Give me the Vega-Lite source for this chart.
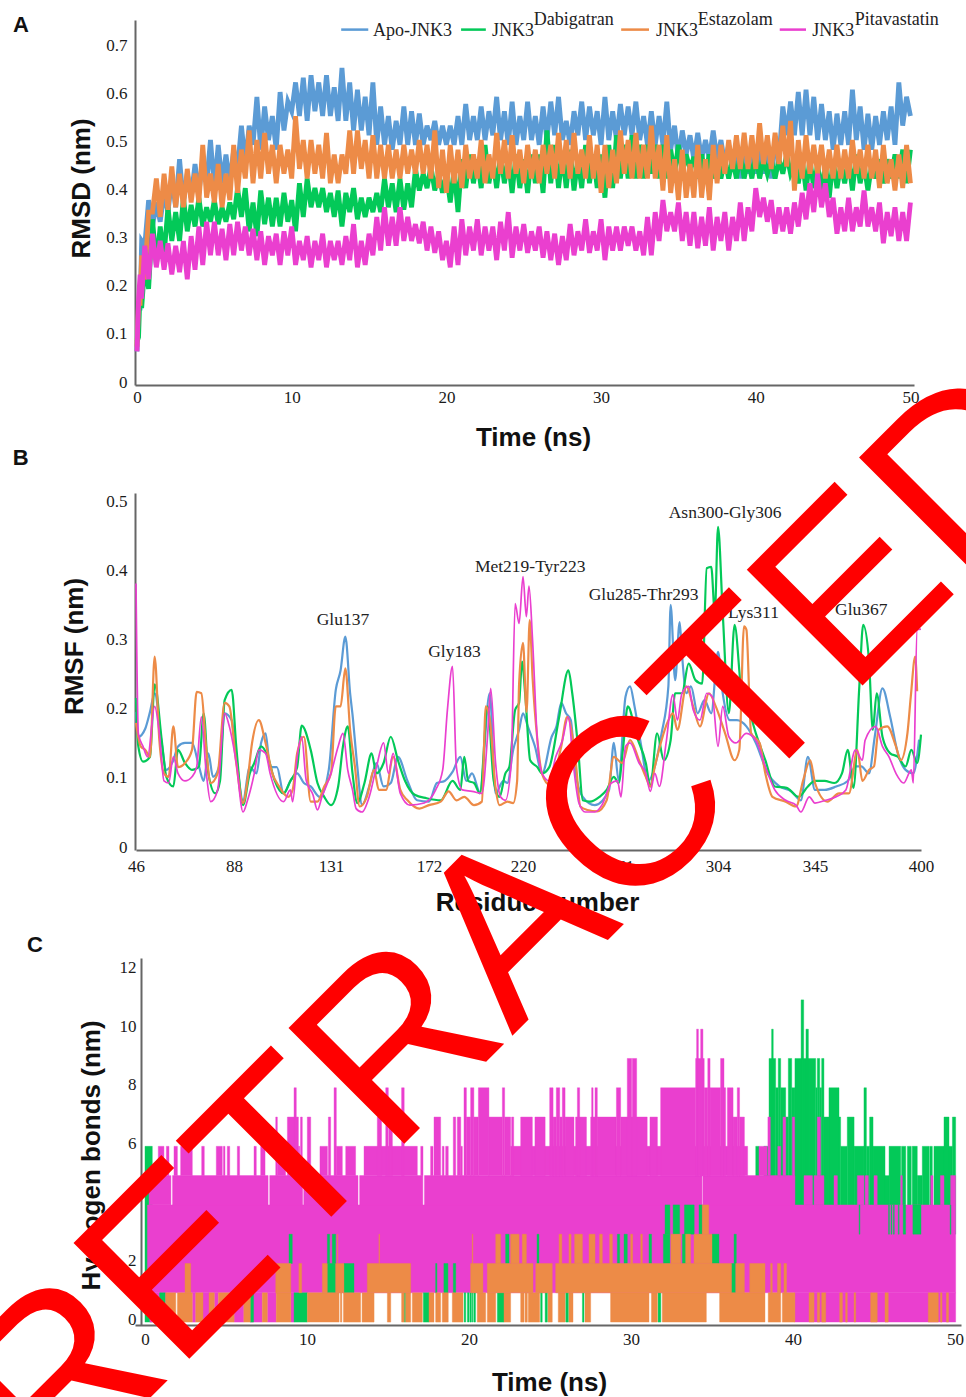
{"$schema":"https://vega.github.io/schema/vega-lite/v6.json","padding":{"left":-81,"top":11,"right":0,"bottom":0},"background":"white","bounds":"flush","spacing":108,"resolve":{"scale":{"color":"independent","stroke":"independent"}},
"config":{"view":{"stroke":null},"axis":{"grid":false,"ticks":false,"domainColor":"#666666","domainWidth":2,"labelFont":"Liberation Serif","labelFontSize":17,"labelColor":"#1a1a1a","titleFont":"Liberation Sans","titleFontSize":26,"titleFontWeight":"bold","titleColor":"#111111","titleBaseline":"middle","titleAlign":"center","labelFlush":false,"labelOverlap":false}},
"datasets":{
"rmsd":[
{"t":0,"a":0.07,"d":0.09,"e":0.08,"p":0.07},{"t":0.1,"a":0.16,"d":0.1,"e":0.17,"p":0.18},{"t":0.2,"a":0.16,"d":0.2,"e":0.17,"p":0.23},{"t":0.3,"a":0.3,"d":0.16,"e":0.27,"p":0.18},{"t":0.5,"a":0.29,"d":0.25,"e":0.22,"p":0.29},{"t":0.75,"a":0.385,"d":0.2,"e":0.36,"p":0.22},
{"t":1,"a":0.33,"d":0.345,"e":0.36,"p":0.315},{"t":1.25,"a":0.38,"d":0.25,"e":0.43,"p":0.245},{"t":1.5,"a":0.34,"d":0.33,"e":0.35,"p":0.3},{"t":1.75,"a":0.4,"d":0.27,"e":0.44,"p":0.24},{"t":2,"a":0.36,"d":0.37,"e":0.365,"p":0.295},{"t":2.25,"a":0.43,"d":0.3,"e":0.455,"p":0.23},{"t":2.5,"a":0.37,"d":0.36,"e":0.37,"p":0.29},{"t":2.75,"a":0.47,"d":0.3,"e":0.44,"p":0.235},{"t":3,"a":0.38,"d":0.39,"e":0.37,"p":0.3},{"t":3.25,"a":0.44,"d":0.32,"e":0.45,"p":0.22},{"t":3.5,"a":0.39,"d":0.375,"e":0.38,"p":0.31},{"t":3.75,"a":0.46,"d":0.33,"e":0.44,"p":0.24},
{"t":4,"a":0.4,"d":0.39,"e":0.38,"p":0.33},{"t":4.25,"a":0.47,"d":0.33,"e":0.5,"p":0.25},{"t":4.5,"a":0.42,"d":0.37,"e":0.39,"p":0.34},{"t":4.75,"a":0.51,"d":0.34,"e":0.44,"p":0.27},{"t":5,"a":0.41,"d":0.385,"e":0.38,"p":0.34},{"t":5.25,"a":0.5,"d":0.335,"e":0.46,"p":0.27},{"t":5.5,"a":0.42,"d":0.37,"e":0.37,"p":0.325},{"t":5.75,"a":0.48,"d":0.34,"e":0.44,"p":0.26},{"t":6,"a":0.42,"d":0.38,"e":0.385,"p":0.335},{"t":6.25,"a":0.49,"d":0.345,"e":0.5,"p":0.27},{"t":6.5,"a":0.45,"d":0.41,"e":0.4,"p":0.34},{"t":6.75,"a":0.54,"d":0.35,"e":0.49,"p":0.28},{"t":7,"a":0.46,"d":0.41,"e":0.43,"p":0.33},{"t":7.25,"a":0.54,"d":0.32,"e":0.53,"p":0.27},{"t":7.5,"a":0.5,"d":0.38,"e":0.42,"p":0.325},{"t":7.75,"a":0.6,"d":0.31,"e":0.51,"p":0.26},
{"t":8,"a":0.49,"d":0.405,"e":0.43,"p":0.32},{"t":8.25,"a":0.58,"d":0.335,"e":0.525,"p":0.25},{"t":8.5,"a":0.51,"d":0.39,"e":0.44,"p":0.31},{"t":8.75,"a":0.56,"d":0.33,"e":0.5,"p":0.27},{"t":9,"a":0.49,"d":0.39,"e":0.42,"p":0.315},{"t":9.25,"a":0.61,"d":0.33,"e":0.5,"p":0.25},{"t":9.5,"a":0.53,"d":0.4,"e":0.44,"p":0.32},{"t":9.75,"a":0.59,"d":0.34,"e":0.49,"p":0.27},{"t":10,"a":0.57,"d":0.385,"e":0.43,"p":0.33},{"t":10.25,"a":0.63,"d":0.32,"e":0.56,"p":0.25},{"t":10.5,"a":0.56,"d":0.42,"e":0.45,"p":0.3},{"t":10.75,"a":0.64,"d":0.35,"e":0.51,"p":0.26},{"t":11,"a":0.55,"d":0.43,"e":0.43,"p":0.31},{"t":11.25,"a":0.645,"d":0.37,"e":0.51,"p":0.245},{"t":11.5,"a":0.57,"d":0.41,"e":0.44,"p":0.3},{"t":11.75,"a":0.63,"d":0.37,"e":0.5,"p":0.26},
{"t":12,"a":0.56,"d":0.41,"e":0.43,"p":0.315},{"t":12.25,"a":0.645,"d":0.36,"e":0.525,"p":0.245},{"t":12.5,"a":0.56,"d":0.4,"e":0.42,"p":0.3},{"t":12.75,"a":0.62,"d":0.35,"e":0.48,"p":0.26},{"t":13,"a":0.55,"d":0.405,"e":0.42,"p":0.3},{"t":13.25,"a":0.66,"d":0.33,"e":0.48,"p":0.25},{"t":13.5,"a":0.55,"d":0.4,"e":0.44,"p":0.31},{"t":13.75,"a":0.63,"d":0.36,"e":0.53,"p":0.26},{"t":14,"a":0.53,"d":0.41,"e":0.44,"p":0.335},{"t":14.25,"a":0.615,"d":0.345,"e":0.53,"p":0.245},{"t":14.5,"a":0.53,"d":0.39,"e":0.45,"p":0.3},{"t":14.75,"a":0.6,"d":0.35,"e":0.51,"p":0.25},{"t":15,"a":0.52,"d":0.39,"e":0.43,"p":0.315},{"t":15.25,"a":0.63,"d":0.36,"e":0.52,"p":0.27},{"t":15.5,"a":0.5,"d":0.4,"e":0.43,"p":0.35},{"t":15.75,"a":0.58,"d":0.36,"e":0.5,"p":0.28},
{"t":16,"a":0.5,"d":0.43,"e":0.43,"p":0.37},{"t":16.25,"a":0.56,"d":0.37,"e":0.5,"p":0.29},{"t":16.5,"a":0.49,"d":0.42,"e":0.43,"p":0.35},{"t":16.75,"a":0.55,"d":0.36,"e":0.49,"p":0.29},{"t":17,"a":0.5,"d":0.43,"e":0.43,"p":0.37},{"t":17.25,"a":0.58,"d":0.365,"e":0.5,"p":0.3},{"t":17.5,"a":0.5,"d":0.42,"e":0.44,"p":0.35},{"t":17.75,"a":0.57,"d":0.37,"e":0.49,"p":0.3},{"t":18,"a":0.5,"d":0.45,"e":0.44,"p":0.335},{"t":18.25,"a":0.565,"d":0.405,"e":0.51,"p":0.295},{"t":18.5,"a":0.5,"d":0.44,"e":0.44,"p":0.34},{"t":18.75,"a":0.54,"d":0.41,"e":0.5,"p":0.28},{"t":19,"a":0.51,"d":0.455,"e":0.43,"p":0.33},{"t":19.25,"a":0.55,"d":0.405,"e":0.53,"p":0.275},{"t":19.5,"a":0.5,"d":0.44,"e":0.41,"p":0.32},{"t":19.75,"a":0.54,"d":0.4,"e":0.49,"p":0.26},
{"t":20,"a":0.5,"d":0.44,"e":0.4,"p":0.3},{"t":20.25,"a":0.54,"d":0.38,"e":0.5,"p":0.245},{"t":20.5,"a":0.5,"d":0.45,"e":0.42,"p":0.33},{"t":20.75,"a":0.56,"d":0.36,"e":0.49,"p":0.25},{"t":21,"a":0.5,"d":0.47,"e":0.41,"p":0.345},{"t":21.25,"a":0.585,"d":0.41,"e":0.5,"p":0.27},{"t":21.5,"a":0.51,"d":0.48,"e":0.43,"p":0.33},{"t":21.75,"a":0.56,"d":0.42,"e":0.48,"p":0.28},{"t":22,"a":0.51,"d":0.47,"e":0.43,"p":0.345},{"t":22.25,"a":0.58,"d":0.41,"e":0.51,"p":0.27},{"t":22.5,"a":0.51,"d":0.5,"e":0.42,"p":0.33},{"t":22.75,"a":0.57,"d":0.42,"e":0.48,"p":0.28},{"t":23,"a":0.52,"d":0.47,"e":0.43,"p":0.33},{"t":23.25,"a":0.6,"d":0.41,"e":0.525,"p":0.26},{"t":23.5,"a":0.51,"d":0.48,"e":0.44,"p":0.34},{"t":23.75,"a":0.57,"d":0.42,"e":0.51,"p":0.28},
{"t":24,"a":0.5,"d":0.47,"e":0.43,"p":0.36},{"t":24.25,"a":0.59,"d":0.4,"e":0.52,"p":0.265},{"t":24.5,"a":0.5,"d":0.48,"e":0.44,"p":0.33},{"t":24.75,"a":0.56,"d":0.41,"e":0.49,"p":0.28},{"t":25,"a":0.51,"d":0.47,"e":0.42,"p":0.335},{"t":25.25,"a":0.59,"d":0.4,"e":0.5,"p":0.275},{"t":25.5,"a":0.51,"d":0.48,"e":0.43,"p":0.32},{"t":25.75,"a":0.56,"d":0.42,"e":0.49,"p":0.28},{"t":26,"a":0.5,"d":0.48,"e":0.42,"p":0.33},{"t":26.25,"a":0.58,"d":0.4,"e":0.5,"p":0.265},{"t":26.5,"a":0.51,"d":0.53,"e":0.44,"p":0.32},{"t":26.75,"a":0.59,"d":0.42,"e":0.5,"p":0.26},{"t":27,"a":0.52,"d":0.5,"e":0.43,"p":0.315},{"t":27.25,"a":0.6,"d":0.41,"e":0.525,"p":0.25},{"t":27.5,"a":0.51,"d":0.48,"e":0.44,"p":0.31},{"t":27.75,"a":0.55,"d":0.41,"e":0.51,"p":0.26},
{"t":28,"a":0.5,"d":0.49,"e":0.43,"p":0.335},{"t":28.25,"a":0.57,"d":0.405,"e":0.525,"p":0.27},{"t":28.5,"a":0.52,"d":0.47,"e":0.44,"p":0.32},{"t":28.75,"a":0.59,"d":0.41,"e":0.49,"p":0.28},{"t":29,"a":0.51,"d":0.5,"e":0.43,"p":0.345},{"t":29.25,"a":0.58,"d":0.42,"e":0.52,"p":0.275},{"t":29.5,"a":0.52,"d":0.48,"e":0.43,"p":0.32},{"t":29.75,"a":0.57,"d":0.41,"e":0.5,"p":0.28},{"t":30,"a":0.5,"d":0.48,"e":0.4,"p":0.345},{"t":30.25,"a":0.6,"d":0.39,"e":0.5,"p":0.26},{"t":30.5,"a":0.51,"d":0.5,"e":0.41,"p":0.33},{"t":30.75,"a":0.57,"d":0.41,"e":0.49,"p":0.28},{"t":31,"a":0.51,"d":0.52,"e":0.42,"p":0.33},{"t":31.25,"a":0.585,"d":0.43,"e":0.53,"p":0.28},{"t":31.5,"a":0.52,"d":0.5,"e":0.44,"p":0.33},{"t":31.75,"a":0.58,"d":0.43,"e":0.51,"p":0.29},
{"t":32,"a":0.52,"d":0.52,"e":0.43,"p":0.33},{"t":32.25,"a":0.59,"d":0.43,"e":0.525,"p":0.28},{"t":32.5,"a":0.51,"d":0.5,"e":0.43,"p":0.32},{"t":32.75,"a":0.56,"d":0.43,"e":0.5,"p":0.27},{"t":33,"a":0.5,"d":0.5,"e":0.43,"p":0.35},{"t":33.25,"a":0.57,"d":0.44,"e":0.54,"p":0.27},{"t":33.5,"a":0.5,"d":0.5,"e":0.43,"p":0.36},{"t":33.75,"a":0.56,"d":0.43,"e":0.5,"p":0.3},{"t":34,"a":0.5,"d":0.5,"e":0.405,"p":0.385},{"t":34.25,"a":0.59,"d":0.43,"e":0.52,"p":0.32},{"t":34.5,"a":0.49,"d":0.49,"e":0.4,"p":0.36},{"t":34.75,"a":0.54,"d":0.44,"e":0.47,"p":0.32},{"t":35,"a":0.47,"d":0.5,"e":0.385,"p":0.38},{"t":35.25,"a":0.53,"d":0.44,"e":0.49,"p":0.3},{"t":35.5,"a":0.48,"d":0.48,"e":0.39,"p":0.36},{"t":35.75,"a":0.52,"d":0.45,"e":0.46,"p":0.29},
{"t":36,"a":0.47,"d":0.475,"e":0.39,"p":0.36},{"t":36.25,"a":0.525,"d":0.43,"e":0.5,"p":0.285},{"t":36.5,"a":0.47,"d":0.48,"e":0.39,"p":0.35},{"t":36.75,"a":0.51,"d":0.44,"e":0.47,"p":0.29},{"t":37,"a":0.47,"d":0.48,"e":0.385,"p":0.37},{"t":37.25,"a":0.53,"d":0.43,"e":0.5,"p":0.28},{"t":37.5,"a":0.47,"d":0.47,"e":0.42,"p":0.35},{"t":37.75,"a":0.51,"d":0.43,"e":0.5,"p":0.3},{"t":38,"a":0.46,"d":0.47,"e":0.44,"p":0.36},{"t":38.25,"a":0.5,"d":0.43,"e":0.51,"p":0.28},{"t":38.5,"a":0.45,"d":0.47,"e":0.45,"p":0.35},{"t":38.75,"a":0.49,"d":0.43,"e":0.52,"p":0.3},{"t":39,"a":0.43,"d":0.48,"e":0.45,"p":0.38},{"t":39.25,"a":0.49,"d":0.43,"e":0.525,"p":0.3},{"t":39.5,"a":0.44,"d":0.47,"e":0.45,"p":0.37},{"t":39.75,"a":0.49,"d":0.43,"e":0.52,"p":0.32},
{"t":40,"a":0.44,"d":0.48,"e":0.45,"p":0.41},{"t":40.25,"a":0.49,"d":0.43,"e":0.545,"p":0.35},{"t":40.5,"a":0.44,"d":0.47,"e":0.46,"p":0.39},{"t":40.75,"a":0.49,"d":0.44,"e":0.52,"p":0.34},{"t":41,"a":0.43,"d":0.47,"e":0.45,"p":0.385},{"t":41.25,"a":0.5,"d":0.43,"e":0.525,"p":0.315},{"t":41.5,"a":0.47,"d":0.47,"e":0.46,"p":0.37},{"t":41.75,"a":0.58,"d":0.44,"e":0.54,"p":0.32},{"t":42,"a":0.52,"d":0.48,"e":0.455,"p":0.37},{"t":42.25,"a":0.59,"d":0.44,"e":0.55,"p":0.315},{"t":42.5,"a":0.52,"d":0.46,"e":0.405,"p":0.38},{"t":42.75,"a":0.61,"d":0.42,"e":0.51,"p":0.33},{"t":43,"a":0.52,"d":0.47,"e":0.43,"p":0.4},{"t":43.25,"a":0.615,"d":0.405,"e":0.52,"p":0.345},{"t":43.5,"a":0.52,"d":0.47,"e":0.44,"p":0.42},{"t":43.75,"a":0.6,"d":0.41,"e":0.5,"p":0.36},
{"t":44,"a":0.51,"d":0.46,"e":0.44,"p":0.44},{"t":44.25,"a":0.585,"d":0.4,"e":0.5,"p":0.37},{"t":44.5,"a":0.51,"d":0.46,"e":0.43,"p":0.42},{"t":44.75,"a":0.57,"d":0.39,"e":0.49,"p":0.35},{"t":45,"a":0.49,"d":0.47,"e":0.43,"p":0.39},{"t":45.25,"a":0.565,"d":0.41,"e":0.5,"p":0.315},{"t":45.5,"a":0.5,"d":0.46,"e":0.43,"p":0.37},{"t":45.75,"a":0.57,"d":0.42,"e":0.49,"p":0.32},{"t":46,"a":0.5,"d":0.47,"e":0.43,"p":0.39},{"t":46.25,"a":0.615,"d":0.405,"e":0.51,"p":0.32},{"t":46.5,"a":0.51,"d":0.48,"e":0.44,"p":0.37},{"t":46.75,"a":0.58,"d":0.42,"e":0.49,"p":0.33},{"t":47,"a":0.49,"d":0.46,"e":0.43,"p":0.405},{"t":47.25,"a":0.565,"d":0.405,"e":0.5,"p":0.33},{"t":47.5,"a":0.49,"d":0.46,"e":0.43,"p":0.37},{"t":47.75,"a":0.56,"d":0.43,"e":0.49,"p":0.32},
{"t":48,"a":0.5,"d":0.47,"e":0.41,"p":0.38},{"t":48.25,"a":0.57,"d":0.42,"e":0.5,"p":0.295},{"t":48.5,"a":0.51,"d":0.47,"e":0.42,"p":0.36},{"t":48.75,"a":0.58,"d":0.43,"e":0.47,"p":0.31},{"t":49,"a":0.5,"d":0.48,"e":0.405,"p":0.37},{"t":49.25,"a":0.63,"d":0.43,"e":0.48,"p":0.3},{"t":49.5,"a":0.54,"d":0.49,"e":0.41,"p":0.36},{"t":49.75,"a":0.6,"d":0.42,"e":0.5,"p":0.3},{"t":50,"a":0.56,"d":0.49,"e":0.42,"p":0.38}
],
"blueB":[{"r":46,"v":0.2},{"r":47,"v":0.164},{"r":50,"v":0.176},{"r":52,"v":0.2},{"r":54,"v":0.227},{"r":57,"v":0.155},{"r":59,"v":0.116},{"r":62,"v":0.13},{"r":64,"v":0.15},{"r":67,"v":0.155},{"r":70,"v":0.155},{"r":73,"v":0.121},{"r":75,"v":0.1},{"r":77,"v":0.14},{"r":79,"v":0.106},{"r":82,"v":0.126},{"r":84,"v":0.198},{"r":87,"v":0.188},{"r":89,"v":0.135},{"r":92,"v":0.072},{"r":95,"v":0.12},{"r":98,"v":0.111},{"r":100,"v":0.155},{"r":102,"v":0.169},{"r":104,"v":0.12},{"r":107,"v":0.12},{"r":110,"v":0.082},{"r":113,"v":0.1},{"r":116,"v":0.111},{"r":119,"v":0.097},{"r":122,"v":0.092},{"r":126,"v":0.077},{"r":130,"v":0.116},{"r":133,"v":0.232},{"r":135,"v":0.26},{"r":137,"v":0.309},{"r":139,"v":0.227},{"r":140,"v":0.196},{"r":142,"v":0.121},{"r":144,"v":0.065},{"r":147,"v":0.092},{"r":150,"v":0.126},{"r":153,"v":0.092},{"r":156,"v":0.097},{"r":159,"v":0.135},{"r":163,"v":0.1},{"r":167,"v":0.072},{"r":172,"v":0.07},{"r":176,"v":0.097},{"r":180,"v":0.1},{"r":184,"v":0.113},{"r":188,"v":0.135},{"r":191,"v":0.1},{"r":194,"v":0.111},{"r":198,"v":0.084},{"r":203,"v":0.227},{"r":206,"v":0.082},{"r":210,"v":0.1},{"r":212,"v":0.097},{"r":215,"v":0.145},{"r":218,"v":0.174},{"r":220,"v":0.198},{"r":222,"v":0.179},{"r":225,"v":0.15},{"r":228,"v":0.111},{"r":232,"v":0.164},{"r":234,"v":0.179},{"r":236,"v":0.213},{"r":238,"v":0.198},{"r":240,"v":0.188},{"r":242,"v":0.111},{"r":245,"v":0.077},{"r":250,"v":0.065},{"r":256,"v":0.087},{"r":258,"v":0.155},{"r":260,"v":0.101},{"r":263,"v":0.222},{"r":265,"v":0.237},{"r":267,"v":0.208},{"r":270,"v":0.15},{"r":273,"v":0.1},{"r":276,"v":0.121},{"r":279,"v":0.169},{"r":282,"v":0.237},{"r":283,"v":0.355},{"r":285,"v":0.246},{"r":287,"v":0.33},{"r":288,"v":0.285},{"r":290,"v":0.227},{"r":292,"v":0.237},{"r":295,"v":0.198},{"r":298,"v":0.217},{"r":301,"v":0.198},{"r":304,"v":0.287},{"r":306,"v":0.227},{"r":309,"v":0.188},{"r":312,"v":0.188},{"r":316,"v":0.179},{"r":320,"v":0.155},{"r":325,"v":0.111},{"r":330,"v":0.092},{"r":335,"v":0.085},{"r":339,"v":0.072},{"r":342,"v":0.135},{"r":345,"v":0.087},{"r":350,"v":0.087},{"r":356,"v":0.092},{"r":362,"v":0.1},{"r":366,"v":0.121},{"r":369,"v":0.121},{"r":373,"v":0.111},{"r":376,"v":0.164},{"r":380,"v":0.234},{"r":384,"v":0.193},{"r":388,"v":0.14},{"r":392,"v":0.116},{"r":396,"v":0.111},{"r":399,"v":0.16}],
"greenB":[{"r":46,"v":0.22},{"r":47,"v":0.15},{"r":49,"v":0.128},{"r":52,"v":0.135},{"r":54,"v":0.24},{"r":57,"v":0.16},{"r":59,"v":0.106},{"r":62,"v":0.092},{"r":64,"v":0.145},{"r":67,"v":0.126},{"r":70,"v":0.116},{"r":73,"v":0.121},{"r":75,"v":0.198},{"r":77,"v":0.111},{"r":80,"v":0.082},{"r":82,"v":0.1},{"r":84,"v":0.217},{"r":87,"v":0.232},{"r":89,"v":0.15},{"r":92,"v":0.065},{"r":95,"v":0.111},{"r":97,"v":0.126},{"r":100,"v":0.15},{"r":103,"v":0.135},{"r":106,"v":0.101},{"r":110,"v":0.082},{"r":113,"v":0.1},{"r":116,"v":0.12},{"r":118,"v":0.18},{"r":122,"v":0.145},{"r":125,"v":0.097},{"r":128,"v":0.077},{"r":131,"v":0.065},{"r":134,"v":0.092},{"r":136,"v":0.15},{"r":138,"v":0.179},{"r":140,"v":0.111},{"r":142,"v":0.068},{"r":145,"v":0.097},{"r":148,"v":0.14},{"r":150,"v":0.111},{"r":153,"v":0.126},{"r":156,"v":0.164},{"r":159,"v":0.13},{"r":162,"v":0.1},{"r":166,"v":0.08},{"r":171,"v":0.075},{"r":178,"v":0.072},{"r":184,"v":0.1},{"r":188,"v":0.087},{"r":190,"v":0.135},{"r":192,"v":0.1},{"r":195,"v":0.097},{"r":198,"v":0.082},{"r":202,"v":0.208},{"r":205,"v":0.101},{"r":208,"v":0.077},{"r":211,"v":0.111},{"r":213,"v":0.12},{"r":216,"v":0.203},{"r":218,"v":0.213},{"r":219.5,"v":0.273},{"r":221,"v":0.222},{"r":223,"v":0.13},{"r":226,"v":0.12},{"r":228,"v":0.111},{"r":231,"v":0.12},{"r":235,"v":0.19},{"r":239,"v":0.26},{"r":240.6,"v":0.227},{"r":243,"v":0.15},{"r":245,"v":0.072},{"r":248,"v":0.07},{"r":252,"v":0.077},{"r":255,"v":0.087},{"r":258,"v":0.106},{"r":260,"v":0.097},{"r":262,"v":0.15},{"r":264,"v":0.208},{"r":268,"v":0.164},{"r":272,"v":0.126},{"r":274,"v":0.092},{"r":277,"v":0.169},{"r":280,"v":0.13},{"r":283,"v":0.159},{"r":285,"v":0.227},{"r":288,"v":0.227},{"r":291,"v":0.27},{"r":294,"v":0.246},{"r":297,"v":0.241},{"r":299,"v":0.408},{"r":301,"v":0.41},{"r":302.6,"v":0.343},{"r":304,"v":0.468},{"r":306,"v":0.343},{"r":308.6,"v":0.198},{"r":311,"v":0.326},{"r":314,"v":0.227},{"r":317,"v":0.203},{"r":320,"v":0.169},{"r":324,"v":0.13},{"r":328,"v":0.092},{"r":333,"v":0.09},{"r":338,"v":0.077},{"r":342,"v":0.092},{"r":345,"v":0.1},{"r":350,"v":0.1},{"r":355,"v":0.097},{"r":359,"v":0.111},{"r":362,"v":0.145},{"r":365,"v":0.09},{"r":368,"v":0.237},{"r":370,"v":0.326},{"r":373,"v":0.275},{"r":375,"v":0.174},{"r":377,"v":0.227},{"r":380,"v":0.164},{"r":384,"v":0.14},{"r":388,"v":0.135},{"r":392,"v":0.121},{"r":395,"v":0.145},{"r":398,"v":0.126},{"r":400,"v":0.167}],
"orangeB":[{"r":46,"v":0.184},{"r":48,"v":0.15},{"r":50,"v":0.145},{"r":52,"v":0.135},{"r":54,"v":0.28},{"r":56,"v":0.159},{"r":58,"v":0.111},{"r":60,"v":0.106},{"r":62,"v":0.179},{"r":64,"v":0.12},{"r":67,"v":0.126},{"r":70,"v":0.145},{"r":72,"v":0.229},{"r":74,"v":0.227},{"r":76,"v":0.15},{"r":78,"v":0.097},{"r":81,"v":0.111},{"r":84,"v":0.213},{"r":86,"v":0.208},{"r":89,"v":0.126},{"r":92,"v":0.068},{"r":94,"v":0.101},{"r":96,"v":0.155},{"r":99,"v":0.188},{"r":102,"v":0.155},{"r":105,"v":0.111},{"r":108,"v":0.092},{"r":112,"v":0.077},{"r":114,"v":0.087},{"r":116,"v":0.14},{"r":119,"v":0.164},{"r":122,"v":0.07},{"r":125,"v":0.07},{"r":128,"v":0.092},{"r":131,"v":0.111},{"r":133,"v":0.208},{"r":135,"v":0.208},{"r":137,"v":0.263},{"r":139,"v":0.174},{"r":141,"v":0.121},{"r":143,"v":0.063},{"r":146,"v":0.077},{"r":149,"v":0.116},{"r":151,"v":0.087},{"r":154,"v":0.087},{"r":157,"v":0.135},{"r":160,"v":0.087},{"r":163,"v":0.072},{"r":168,"v":0.06},{"r":172,"v":0.065},{"r":178,"v":0.07},{"r":182,"v":0.085},{"r":186,"v":0.072},{"r":190,"v":0.077},{"r":195,"v":0.065},{"r":199,"v":0.07},{"r":201,"v":0.208},{"r":203,"v":0.19},{"r":206,"v":0.09},{"r":208,"v":0.065},{"r":212,"v":0.07},{"r":215,"v":0.068},{"r":217,"v":0.1},{"r":218,"v":0.24},{"r":220,"v":0.3},{"r":221.5,"v":0.2},{"r":222.8,"v":0.333},{"r":224,"v":0.25},{"r":226,"v":0.16},{"r":228,"v":0.11},{"r":231,"v":0.095},{"r":234,"v":0.12},{"r":236,"v":0.15},{"r":238.5,"v":0.193},{"r":242,"v":0.13},{"r":244,"v":0.063},{"r":247,"v":0.058},{"r":251,"v":0.056},{"r":255,"v":0.072},{"r":258,"v":0.135},{"r":261.5,"v":0.126},{"r":265,"v":0.159},{"r":269,"v":0.13},{"r":272,"v":0.106},{"r":274,"v":0.092},{"r":276,"v":0.121},{"r":279,"v":0.159},{"r":281.5,"v":0.184},{"r":284,"v":0.198},{"r":286,"v":0.174},{"r":290,"v":0.237},{"r":293,"v":0.208},{"r":296,"v":0.179},{"r":300,"v":0.227},{"r":303,"v":0.208},{"r":307,"v":0.169},{"r":311,"v":0.13},{"r":313,"v":0.145},{"r":315,"v":0.324},{"r":316,"v":0.319},{"r":318,"v":0.169},{"r":321.6,"v":0.155},{"r":324,"v":0.111},{"r":327,"v":0.077},{"r":332.6,"v":0.07},{"r":337,"v":0.063},{"r":340,"v":0.101},{"r":343,"v":0.13},{"r":345,"v":0.097},{"r":351.4,"v":0.07},{"r":357.5,"v":0.082},{"r":362.6,"v":0.082},{"r":367,"v":0.145},{"r":369.6,"v":0.1},{"r":373,"v":0.116},{"r":375.6,"v":0.121},{"r":378,"v":0.174},{"r":382.5,"v":0.179},{"r":387,"v":0.15},{"r":389.5,"v":0.13},{"r":393,"v":0.17},{"r":394.7,"v":0.222},{"r":397,"v":0.28},{"r":398,"v":0.23}],
"magentaB":[{"r":46,"v":0.386},{"r":47,"v":0.169},{"r":49,"v":0.15},{"r":51,"v":0.135},{"r":54,"v":0.208},{"r":56,"v":0.169},{"r":58,"v":0.1},{"r":60,"v":0.097},{"r":62,"v":0.135},{"r":64,"v":0.111},{"r":67,"v":0.1},{"r":70,"v":0.106},{"r":72,"v":0.12},{"r":74,"v":0.193},{"r":76,"v":0.116},{"r":78,"v":0.07},{"r":81,"v":0.087},{"r":84,"v":0.198},{"r":86,"v":0.179},{"r":89,"v":0.126},{"r":92,"v":0.055},{"r":94,"v":0.072},{"r":97,"v":0.111},{"r":99,"v":0.145},{"r":102,"v":0.14},{"r":104,"v":0.111},{"r":110,"v":0.07},{"r":113,"v":0.087},{"r":114,"v":0.07},{"r":116,"v":0.135},{"r":118,"v":0.164},{"r":120,"v":0.101},{"r":123,"v":0.08},{"r":125,"v":0.058},{"r":127,"v":0.077},{"r":131,"v":0.111},{"r":134,"v":0.15},{"r":136,"v":0.169},{"r":138,"v":0.116},{"r":140,"v":0.087},{"r":141.5,"v":0.06},{"r":144,"v":0.055},{"r":147,"v":0.077},{"r":150,"v":0.12},{"r":153,"v":0.155},{"r":155,"v":0.111},{"r":157,"v":0.14},{"r":160,"v":0.082},{"r":164,"v":0.065},{"r":170,"v":0.068},{"r":175.4,"v":0.087},{"r":179,"v":0.116},{"r":181.4,"v":0.203},{"r":184,"v":0.266},{"r":186,"v":0.12},{"r":189,"v":0.087},{"r":194,"v":0.085},{"r":199,"v":0.082},{"r":202,"v":0.169},{"r":203.5,"v":0.234},{"r":206,"v":0.126},{"r":208.5,"v":0.077},{"r":211,"v":0.072},{"r":214,"v":0.126},{"r":216,"v":0.357},{"r":218,"v":0.328},{"r":220,"v":0.396},{"r":221.4,"v":0.338},{"r":222.5,"v":0.382},{"r":224,"v":0.304},{"r":226,"v":0.159},{"r":228,"v":0.111},{"r":231,"v":0.1},{"r":233.7,"v":0.135},{"r":236.5,"v":0.159},{"r":239,"v":0.193},{"r":241,"v":0.126},{"r":243.4,"v":0.068},{"r":246,"v":0.055},{"r":250,"v":0.055},{"r":253,"v":0.065},{"r":257,"v":0.097},{"r":259.5,"v":0.1},{"r":261,"v":0.077},{"r":263,"v":0.15},{"r":265,"v":0.155},{"r":269,"v":0.126},{"r":272,"v":0.111},{"r":274,"v":0.085},{"r":276,"v":0.111},{"r":278,"v":0.092},{"r":281,"v":0.155},{"r":284,"v":0.225},{"r":286,"v":0.188},{"r":288,"v":0.227},{"r":291,"v":0.237},{"r":293,"v":0.203},{"r":296,"v":0.188},{"r":299,"v":0.227},{"r":301.5,"v":0.222},{"r":304,"v":0.15},{"r":306,"v":0.208},{"r":308.6,"v":0.164},{"r":311.5,"v":0.155},{"r":316,"v":0.169},{"r":320,"v":0.159},{"r":324,"v":0.121},{"r":328,"v":0.087},{"r":332.6,"v":0.072},{"r":337,"v":0.065},{"r":339,"v":0.055},{"r":342.6,"v":0.077},{"r":345,"v":0.068},{"r":350.5,"v":0.072},{"r":356,"v":0.077},{"r":361,"v":0.087},{"r":366,"v":0.145},{"r":369.6,"v":0.13},{"r":371,"v":0.159},{"r":376.5,"v":0.179},{"r":380,"v":0.15},{"r":383.4,"v":0.135},{"r":387,"v":0.111},{"r":391,"v":0.097},{"r":395,"v":0.116},{"r":396,"v":0.097},{"r":398,"v":0.319},{"r":400,"v":0.32}],
"hb":[
{"a":0,"b":0.45,"l":0,"h":6,"s":"g"},{"a":37.7,"b":37.9,"l":3,"h":6,"s":"g"},{"a":38.2,"b":38.52,"l":3,"h":6,"s":"g"},{"a":38.52,"b":38.93,"l":3,"h":9,"s":"g"},{"a":38.68,"b":38.78,"l":3,"h":10,"s":"g"},{"a":38.93,"b":39.09,"l":3,"h":8,"s":"g"},{"a":39.09,"b":39.24,"l":3,"h":9,"s":"g"},{"a":39.24,"b":39.55,"l":3,"h":8,"s":"g"},{"a":39.55,"b":39.71,"l":3,"h":7,"s":"g"},{"a":39.71,"b":39.92,"l":3,"h":9,"s":"g"},{"a":39.92,"b":40.12,"l":3,"h":8,"s":"g"},{"a":40.12,"b":41.4,"l":3,"h":9,"s":"g"},{"a":40.5,"b":40.66,"l":3,"h":11,"s":"g"},{"a":40.8,"b":40.95,"l":3,"h":10,"s":"g"},{"a":41.4,"b":41.5,"l":3,"h":8,"s":"g"},{"a":41.5,"b":41.65,"l":3,"h":9,"s":"g"},{"a":41.65,"b":41.77,"l":3,"h":8,"s":"g"},{"a":41.77,"b":41.91,"l":3,"h":9,"s":"g"},{"a":41.91,"b":42.22,"l":3,"h":7,"s":"g"},{"a":42.22,"b":42.84,"l":3,"h":8,"s":"g"},{"a":42.84,"b":42.94,"l":3,"h":7,"s":"g"},{"a":42.94,"b":43.35,"l":3,"h":6,"s":"g"},{"a":43.35,"b":43.77,"l":3,"h":7,"s":"g"},{"a":43.77,"b":44.38,"l":3,"h":6,"s":"g"},{"a":44.38,"b":44.53,"l":3,"h":8,"s":"g"},{"a":44.53,"b":44.73,"l":3,"h":6,"s":"g"},{"a":44.73,"b":44.94,"l":3,"h":7,"s":"g"},{"a":44.94,"b":45.68,"l":3,"h":6,"s":"g"},{"a":45.68,"b":45.93,"l":3,"h":5,"s":"g"},{"a":45.93,"b":46.65,"l":3,"h":6,"s":"g"},{"a":46.7,"b":46.96,"l":3,"h":6,"s":"g"},{"a":47.06,"b":47.3,"l":3,"h":6,"s":"g"},{"a":47.36,"b":47.67,"l":3,"h":6,"s":"g"},{"a":47.67,"b":47.98,"l":3,"h":5,"s":"g"},{"a":47.98,"b":48.4,"l":3,"h":6,"s":"g"},{"a":48.44,"b":48.6,"l":3,"h":6,"s":"g"},{"a":48.7,"b":49.32,"l":3,"h":6,"s":"g"},{"a":49.32,"b":49.63,"l":3,"h":7,"s":"g"},{"a":49.63,"b":49.84,"l":3,"h":6,"s":"g"},{"a":49.84,"b":50.04,"l":3,"h":7,"s":"g"},
{"a":0.15,"b":50.04,"l":1,"h":4,"s":"m"},{"a":0.25,"b":1.6,"l":4,"h":5,"s":"m"},{"a":1.7,"b":7.6,"l":4,"h":5,"s":"m"},{"a":7.7,"b":9.73,"l":4,"h":5,"s":"m"},{"a":9.8,"b":13.15,"l":4,"h":5,"s":"m"},{"a":13.25,"b":17.15,"l":4,"h":5,"s":"m"},{"a":17.25,"b":34.38,"l":4,"h":5,"s":"m"},{"a":34.43,"b":40.12,"l":4,"h":5,"s":"m"},{"a":40.68,"b":41.2,"l":4,"h":5,"s":"m"},{"a":41.3,"b":41.91,"l":4,"h":5,"s":"m"},{"a":42.53,"b":42.74,"l":4,"h":5,"s":"m"},{"a":43.97,"b":44.38,"l":4,"h":5,"s":"m"},{"a":44.45,"b":44.65,"l":4,"h":5,"s":"m"},{"a":45,"b":45.2,"l":4,"h":5,"s":"m"},{"a":46.65,"b":46.75,"l":4,"h":5,"s":"m"},{"a":48.5,"b":48.64,"l":4,"h":5,"s":"m"},{"a":49.1,"b":49.32,"l":4,"h":5,"s":"m"},{"a":49.73,"b":50.04,"l":4,"h":5,"s":"m"},
{"a":0.82,"b":1.17,"l":5,"h":6,"s":"m"},{"a":1.32,"b":1.48,"l":5,"h":6,"s":"m"},{"a":1.79,"b":2,"l":5,"h":6,"s":"m"},{"a":2.2,"b":2.92,"l":5,"h":6,"s":"m"},{"a":3.5,"b":3.66,"l":5,"h":6,"s":"m"},{"a":4.4,"b":4.77,"l":5,"h":6,"s":"m"},{"a":4.84,"b":4.94,"l":5,"h":6,"s":"m"},{"a":5.08,"b":5.23,"l":5,"h":6,"s":"m"},{"a":5.7,"b":5.84,"l":5,"h":6,"s":"m"},{"a":6.73,"b":6.87,"l":5,"h":6,"s":"m"},{"a":7.14,"b":7.41,"l":5,"h":6,"s":"m"},{"a":8.07,"b":8.17,"l":5,"h":7,"s":"m"},{"a":8.17,"b":8.68,"l":5,"h":6,"s":"m"},{"a":8.79,"b":9.47,"l":5,"h":7,"s":"m"},{"a":9.2,"b":9.34,"l":5,"h":8,"s":"m"},{"a":9.47,"b":9.55,"l":5,"h":6,"s":"m"},{"a":9.6,"b":9.71,"l":5,"h":7,"s":"m"},{"a":10.02,"b":10.23,"l":5,"h":7,"s":"m"},{"a":10.8,"b":11.26,"l":5,"h":6,"s":"m"},{"a":11.32,"b":11.46,"l":5,"h":7,"s":"m"},{"a":11.67,"b":11.81,"l":5,"h":8,"s":"m"},{"a":11.81,"b":12.18,"l":5,"h":6,"s":"m"},{"a":12.39,"b":13,"l":5,"h":6,"s":"m"},{"a":13.52,"b":16.81,"l":5,"h":6,"s":"m"},{"a":14.34,"b":14.6,"l":5,"h":7,"s":"m"},{"a":14.86,"b":15.02,"l":5,"h":8,"s":"m"},{"a":15.06,"b":15.27,"l":5,"h":7,"s":"m"},{"a":15.84,"b":16,"l":5,"h":8,"s":"m"},{"a":17.02,"b":17.16,"l":5,"h":6,"s":"m"},{"a":17.63,"b":17.78,"l":5,"h":6,"s":"m"},{"a":17.84,"b":18.25,"l":5,"h":7,"s":"m"},{"a":18.35,"b":18.46,"l":5,"h":6,"s":"m"},{"a":18.56,"b":18.72,"l":5,"h":6,"s":"m"},{"a":19.03,"b":19.18,"l":5,"h":7,"s":"m"},{"a":19.28,"b":19.49,"l":5,"h":7,"s":"m"},{"a":19.49,"b":19.59,"l":5,"h":6,"s":"m"},{"a":19.69,"b":19.84,"l":5,"h":8,"s":"m"},{"a":19.84,"b":20.1,"l":5,"h":7,"s":"m"},{"a":20.1,"b":20.3,"l":5,"h":8,"s":"m"},{"a":20.3,"b":20.58,"l":5,"h":7,"s":"m"},{"a":20.58,"b":21.23,"l":5,"h":8,"s":"m"},{"a":21.23,"b":22.06,"l":5,"h":7,"s":"m"},{"a":22.06,"b":22.2,"l":5,"h":8,"s":"m"},{"a":22.2,"b":22.57,"l":5,"h":7,"s":"m"},{"a":22.57,"b":37.2,"l":5,"h":6,"s":"m"},{"a":22.63,"b":22.76,"l":5,"h":7,"s":"m"},{"a":23.19,"b":23.91,"l":5,"h":7,"s":"m"},{"a":24.07,"b":24.7,"l":5,"h":7,"s":"m"},{"a":24.98,"b":25.19,"l":5,"h":8,"s":"m"},{"a":25.19,"b":25.39,"l":5,"h":7,"s":"m"},{"a":25.39,"b":25.6,"l":5,"h":8,"s":"m"},{"a":25.6,"b":25.76,"l":5,"h":7,"s":"m"},{"a":25.76,"b":25.93,"l":5,"h":8,"s":"m"},{"a":25.93,"b":26.48,"l":5,"h":7,"s":"m"},{"a":26.58,"b":27.25,"l":5,"h":7,"s":"m"},{"a":26.69,"b":26.83,"l":5,"h":8,"s":"m"},{"a":27.51,"b":27.92,"l":5,"h":7,"s":"m"},{"a":27.57,"b":27.66,"l":5,"h":8,"s":"m"},{"a":27.78,"b":27.92,"l":5,"h":8,"s":"m"},{"a":27.92,"b":29.1,"l":5,"h":7,"s":"m"},{"a":29.1,"b":29.36,"l":5,"h":8,"s":"m"},{"a":29.36,"b":31,"l":5,"h":7,"s":"m"},{"a":29.77,"b":30.04,"l":5,"h":9,"s":"m"},{"a":30.08,"b":30.35,"l":5,"h":9,"s":"m"},{"a":31.17,"b":31.63,"l":5,"h":7,"s":"m"},{"a":31.83,"b":33.99,"l":5,"h":8,"s":"m"},{"a":33.99,"b":34.52,"l":5,"h":9,"s":"m"},{"a":34.05,"b":34.16,"l":5,"h":10,"s":"m"},{"a":34.3,"b":34.44,"l":5,"h":10,"s":"m"},{"a":34.52,"b":34.74,"l":5,"h":8,"s":"m"},{"a":34.74,"b":34.88,"l":5,"h":9,"s":"m"},{"a":34.88,"b":35.53,"l":5,"h":8,"s":"m"},{"a":35.53,"b":35.74,"l":5,"h":9,"s":"m"},{"a":35.74,"b":35.84,"l":5,"h":8,"s":"m"},{"a":35.95,"b":36.3,"l":5,"h":8,"s":"m"},{"a":36.3,"b":36.56,"l":5,"h":7,"s":"m"},{"a":36.56,"b":36.7,"l":5,"h":8,"s":"m"},{"a":36.7,"b":37,"l":5,"h":7,"s":"m"},{"a":37.9,"b":38.4,"l":5,"h":6,"s":"m"},{"a":38.45,"b":38.6,"l":5,"h":7,"s":"m"},{"a":39.06,"b":39.24,"l":5,"h":6,"s":"m"},{"a":39.38,"b":39.55,"l":5,"h":7,"s":"m"},{"a":39.96,"b":40.1,"l":5,"h":7,"s":"m"},{"a":41.5,"b":41.7,"l":5,"h":7,"s":"m"},
{"a":0.3,"b":1.28,"l":0,"h":1,"s":"m"},{"a":2.92,"b":3.13,"l":0,"h":1,"s":"m"},{"a":3.58,"b":3.95,"l":0,"h":1,"s":"m"},{"a":4.28,"b":4.53,"l":0,"h":1,"s":"m"},{"a":5.5,"b":6.1,"l":0,"h":1,"s":"m"},{"a":6.5,"b":7.24,"l":0,"h":1,"s":"m"},{"a":7.55,"b":8.1,"l":0,"h":1,"s":"m"},{"a":9,"b":9.2,"l":0,"h":1,"s":"m"},{"a":40.1,"b":50.04,"l":0,"h":1,"s":"m"},
{"a":0.9,"b":1.25,"l":0,"h":1,"s":"g"},{"a":6.5,"b":6.7,"l":0,"h":1,"s":"g"},{"a":9.2,"b":10.02,"l":0,"h":1,"s":"g"},{"a":16,"b":16.09,"l":0,"h":1,"s":"g"},{"a":17.18,"b":17.53,"l":0,"h":1,"s":"g"},{"a":19.7,"b":19.8,"l":0,"h":1,"s":"g"},{"a":19.9,"b":20,"l":0,"h":1,"s":"g"},{"a":20.05,"b":20.15,"l":0,"h":1,"s":"g"},{"a":20.2,"b":20.25,"l":0,"h":1,"s":"g"},{"a":20.3,"b":20.4,"l":0,"h":1,"s":"g"},{"a":21.75,"b":22.16,"l":0,"h":1,"s":"g"},{"a":24.42,"b":24.52,"l":0,"h":1,"s":"g"},{"a":24.7,"b":24.84,"l":0,"h":1,"s":"g"},{"a":25.97,"b":26.14,"l":0,"h":1,"s":"g"},{"a":27,"b":27.1,"l":0,"h":1,"s":"g"},{"a":31.67,"b":31.84,"l":0,"h":1,"s":"g"},
{"a":11.25,"b":11.77,"l":1,"h":2,"s":"g"},{"a":12.28,"b":12.9,"l":1,"h":2,"s":"g"},{"a":17.94,"b":18.02,"l":1,"h":2,"s":"g"},{"a":18.45,"b":18.7,"l":1,"h":2,"s":"g"},{"a":19.03,"b":19.18,"l":1,"h":2,"s":"g"},{"a":36.2,"b":36.45,"l":1,"h":2,"s":"g"},
{"a":8.89,"b":9.09,"l":2,"h":3,"s":"g"},{"a":11.26,"b":11.4,"l":2,"h":3,"s":"g"},{"a":11.56,"b":11.77,"l":2,"h":3,"s":"g"},{"a":22.26,"b":22.47,"l":2,"h":3,"s":"g"},{"a":24.2,"b":24.32,"l":2,"h":3,"s":"g"},{"a":29.16,"b":29.3,"l":2,"h":3,"s":"g"},{"a":29.57,"b":29.77,"l":2,"h":3,"s":"g"},{"a":31.11,"b":31.27,"l":2,"h":3,"s":"g"},{"a":32,"b":32.4,"l":2,"h":3,"s":"g"},{"a":33.17,"b":33.45,"l":2,"h":3,"s":"g"},{"a":35,"b":35.43,"l":2,"h":3,"s":"g"},{"a":36.36,"b":36.5,"l":2,"h":3,"s":"g"},
{"a":32.1,"b":32.4,"l":3,"h":4,"s":"g"},{"a":32.6,"b":33,"l":3,"h":4,"s":"g"},{"a":33.3,"b":33.9,"l":3,"h":4,"s":"g"},{"a":34.2,"b":34.4,"l":3,"h":4,"s":"g"},{"a":47.4,"b":47.9,"l":3,"h":4,"s":"g"},{"a":44.08,"b":44.13,"l":3,"h":4,"s":"g"},{"a":45.9,"b":45.95,"l":3,"h":4,"s":"g"},{"a":46.05,"b":46.1,"l":3,"h":4,"s":"g"},{"a":46.2,"b":46.25,"l":3,"h":4,"s":"g"},{"a":46.5,"b":46.55,"l":3,"h":4,"s":"g"},{"a":46.8,"b":46.95,"l":3,"h":4,"s":"g"},{"a":49.7,"b":49.75,"l":3,"h":4,"s":"g"},
{"a":1.28,"b":1.9,"l":0,"h":1,"s":"o"},{"a":2,"b":2.92,"l":0,"h":1,"s":"o"},{"a":3.13,"b":3.58,"l":0,"h":1,"s":"o"},{"a":3.95,"b":4.28,"l":0,"h":1,"s":"o"},{"a":4.53,"b":5.5,"l":0,"h":1,"s":"o"},{"a":6.1,"b":6.5,"l":0,"h":1,"s":"o"},{"a":7.24,"b":7.55,"l":0,"h":1,"s":"o"},{"a":8.1,"b":9,"l":0,"h":1,"s":"o"},{"a":10.02,"b":11.98,"l":0,"h":1,"s":"o"},{"a":12.06,"b":12.15,"l":0,"h":1,"s":"o"},{"a":12.25,"b":13.31,"l":0,"h":1,"s":"o"},{"a":13.4,"b":14.14,"l":0,"h":1,"s":"o"},{"a":14.96,"b":15.17,"l":0,"h":1,"s":"o"},{"a":15.84,"b":16,"l":0,"h":1,"s":"o"},{"a":16.09,"b":16.4,"l":0,"h":1,"s":"o"},{"a":16.5,"b":17.12,"l":0,"h":1,"s":"o"},{"a":17.53,"b":17.84,"l":0,"h":1,"s":"o"},{"a":17.94,"b":18.25,"l":0,"h":1,"s":"o"},{"a":18.35,"b":18.72,"l":0,"h":1,"s":"o"},{"a":18.97,"b":19.63,"l":0,"h":1,"s":"o"},{"a":20.51,"b":21.03,"l":0,"h":1,"s":"o"},{"a":21.13,"b":21.65,"l":0,"h":1,"s":"o"},{"a":22.16,"b":22.57,"l":0,"h":1,"s":"o"},{"a":23.19,"b":23.4,"l":0,"h":1,"s":"o"},{"a":23.46,"b":23.6,"l":0,"h":1,"s":"o"},{"a":23.66,"b":24.36,"l":0,"h":1,"s":"o"},{"a":24.88,"b":25.14,"l":0,"h":1,"s":"o"},{"a":25.51,"b":25.93,"l":0,"h":1,"s":"o"},{"a":26.17,"b":26.42,"l":0,"h":1,"s":"o"},{"a":27.16,"b":27.51,"l":0,"h":1,"s":"o"},{"a":28.74,"b":31.11,"l":0,"h":1,"s":"o"},{"a":31.26,"b":31.63,"l":0,"h":1,"s":"o"},{"a":31.93,"b":34.65,"l":0,"h":1,"s":"o"},{"a":35.47,"b":38.27,"l":0,"h":1,"s":"o"},{"a":38.47,"b":39.24,"l":0,"h":1,"s":"o"},{"a":39.34,"b":40.12,"l":0,"h":1,"s":"o"},{"a":40.99,"b":41.3,"l":0,"h":1,"s":"o"},{"a":41.5,"b":41.65,"l":0,"h":1,"s":"o"},{"a":41.77,"b":42.02,"l":0,"h":1,"s":"o"},{"a":42.88,"b":43.05,"l":0,"h":1,"s":"o"},{"a":43.25,"b":43.35,"l":0,"h":1,"s":"o"},{"a":43.77,"b":43.87,"l":0,"h":1,"s":"o"},{"a":44.79,"b":45.2,"l":0,"h":1,"s":"o"},{"a":45.68,"b":45.88,"l":0,"h":1,"s":"o"},{"a":48.35,"b":48.97,"l":0,"h":1,"s":"o"},{"a":49.1,"b":49.2,"l":0,"h":1,"s":"o"},{"a":49.47,"b":49.6,"l":0,"h":1,"s":"o"},
{"a":2.47,"b":2.82,"l":1,"h":2,"s":"o"},{"a":8.07,"b":9,"l":1,"h":2,"s":"o"},{"a":9.5,"b":9.67,"l":1,"h":2,"s":"o"},{"a":10.95,"b":11.25,"l":1,"h":2,"s":"o"},{"a":11.77,"b":12.28,"l":1,"h":2,"s":"o"},{"a":13.72,"b":16.4,"l":1,"h":2,"s":"o"},{"a":20.1,"b":20.86,"l":1,"h":2,"s":"o"},{"a":21.13,"b":23.95,"l":1,"h":2,"s":"o"},{"a":24.12,"b":25.14,"l":1,"h":2,"s":"o"},{"a":25.35,"b":36.2,"l":1,"h":2,"s":"o"},{"a":36.47,"b":37,"l":1,"h":2,"s":"o"},{"a":37.33,"b":38.27,"l":1,"h":2,"s":"o"},{"a":38.62,"b":38.72,"l":1,"h":2,"s":"o"},{"a":39.04,"b":39.24,"l":1,"h":2,"s":"o"},{"a":39.44,"b":39.6,"l":1,"h":2,"s":"o"},
{"a":11.87,"b":11.9,"l":2,"h":3,"s":"o"},{"a":14.44,"b":14.48,"l":2,"h":3,"s":"o"},{"a":20.2,"b":20.24,"l":2,"h":3,"s":"o"},{"a":21.65,"b":21.95,"l":2,"h":3,"s":"o"},{"a":22.57,"b":23.09,"l":2,"h":3,"s":"o"},{"a":23.29,"b":23.54,"l":2,"h":3,"s":"o"},{"a":25.56,"b":25.73,"l":2,"h":3,"s":"o"},{"a":26.17,"b":26.3,"l":2,"h":3,"s":"o"},{"a":26.52,"b":27,"l":2,"h":3,"s":"o"},{"a":27.41,"b":27.78,"l":2,"h":3,"s":"o"},{"a":28.06,"b":28.23,"l":2,"h":3,"s":"o"},{"a":28.68,"b":28.85,"l":2,"h":3,"s":"o"},{"a":29.98,"b":30.1,"l":2,"h":3,"s":"o"},{"a":30.6,"b":30.7,"l":2,"h":3,"s":"o"},{"a":32.47,"b":33.07,"l":2,"h":3,"s":"o"},{"a":33.37,"b":33.68,"l":2,"h":3,"s":"o"},{"a":33.89,"b":35,"l":2,"h":3,"s":"o"},{"a":34.4,"b":34.8,"l":3,"h":4,"s":"o"}
]},
"vconcat":[
{"width":779,"height":365,"layer":[
{"data":{"name":"rmsd"},"mark":{"type":"line","color":"#5b9bd5","strokeWidth":4.8},"encoding":{"x":{"field":"t","type":"quantitative","scale":{"domain":[-0.13,50.23],"nice":false,"zero":false},"axis":{"values":[0,10,20,30,40,50],"title":"Time (ns)","titleX":398,"titleY":52,"labelPadding":4}},"y":{"field":"a","type":"quantitative","scale":{"domain":[0,0.76],"nice":false},"axis":{"values":[0,0.1,0.2,0.3,0.4,0.5,0.6,0.7],"format":"~g","title":"RMSD (nm)","titleX":-54,"titleY":168,"labelPadding":8,"labelOffset":-3}}}},
{"data":{"name":"rmsd"},"mark":{"type":"line","color":"#03c958","strokeWidth":4.8},"encoding":{"x":{"field":"t","type":"quantitative"},"y":{"field":"d","type":"quantitative"}}},
{"data":{"name":"rmsd"},"mark":{"type":"line","color":"#ed8b47","strokeWidth":4.8},"encoding":{"x":{"field":"t","type":"quantitative"},"y":{"field":"e","type":"quantitative"}}},
{"data":{"name":"rmsd"},"mark":{"type":"line","color":"#ea3fcf","strokeWidth":4.8},"encoding":{"x":{"field":"t","type":"quantitative"},"y":{"field":"p","type":"quantitative"}}},
{"data":{"values":[{"a":13.2,"b":14.95,"y":0.74,"c":"Apo"},{"a":20.95,"b":22.55,"y":0.74,"c":"Dab"},{"a":31.3,"b":33.1,"y":0.74,"c":"Est"},{"a":41.55,"b":43.25,"y":0.74,"c":"Pit"}]},"mark":{"type":"rule","strokeWidth":2.5},"encoding":{"x":{"field":"a","type":"quantitative"},"x2":{"field":"b"},"y":{"field":"y","type":"quantitative"},"color":{"field":"c","type":"nominal","legend":null,"scale":{"domain":["Apo","Dab","Est","Pit"],"range":["#5b9bd5","#03c958","#ed8b47","#ea3fcf"]}}}},
{"data":{"values":[{"t":15.25,"y":0.737,"label":"Apo-JNK3"},{"t":22.95,"y":0.737,"label":"JNK3"},{"t":25.65,"y":0.759,"label":"Dabigatran"},{"t":33.55,"y":0.737,"label":"JNK3"},{"t":36.25,"y":0.759,"label":"Estazolam"},{"t":43.65,"y":0.737,"label":"JNK3"},{"t":46.4,"y":0.759,"label":"Pitavastatin"}]},"mark":{"type":"text","align":"left","baseline":"middle","font":"Liberation Serif","fontSize":18,"color":"#222222"},"encoding":{"x":{"field":"t","type":"quantitative"},"y":{"field":"y","type":"quantitative"},"text":{"field":"label"}}},
{"data":{"values":[{"t":-7.5,"y":0.75,"label":"A"}]},"mark":{"type":"text","font":"Liberation Sans","fontWeight":"bold","fontSize":22,"color":"#111111"},"encoding":{"x":{"field":"t","type":"quantitative"},"y":{"field":"y","type":"quantitative"},"text":{"field":"label"}}}
]},
{"width":790,"height":357,"layer":[
{"data":{"name":"blueB"},"mark":{"type":"line","color":"#5b9bd5","strokeWidth":2.2,"interpolate":"monotone"},"encoding":{"x":{"field":"r","type":"quantitative","scale":{"domain":[46,88,131,172,220,261,304,345,400],"range":[1,99,196,294,388,486,583,680,786],"zero":false,"nice":false},"axis":{"values":[46,88,131,172,220,261,304,345,400],"title":"Residue number","titleX":402,"titleY":52,"labelPadding":8}},"y":{"field":"v","type":"quantitative","scale":{"domain":[0,0.517],"nice":false},"axis":{"values":[0,0.1,0.2,0.3,0.4,0.5],"format":"~g","title":"RMSF (nm)","titleX":-61,"titleY":153,"labelPadding":8,"labelOffset":-3}}}},
{"data":{"name":"greenB"},"mark":{"type":"line","color":"#03c958","strokeWidth":2.2,"interpolate":"monotone"},"encoding":{"x":{"field":"r","type":"quantitative"},"y":{"field":"v","type":"quantitative"}}},
{"data":{"name":"orangeB"},"mark":{"type":"line","color":"#ed8b47","strokeWidth":2.2,"interpolate":"monotone"},"encoding":{"x":{"field":"r","type":"quantitative"},"y":{"field":"v","type":"quantitative"}}},
{"data":{"name":"magentaB"},"mark":{"type":"line","color":"#ea3fcf","strokeWidth":1.7,"interpolate":"monotone"},"encoding":{"x":{"field":"r","type":"quantitative"},"y":{"field":"v","type":"quantitative"}}},
{"data":{"values":[{"r":136,"v":0.333,"label":"Glu137"},{"r":185,"v":0.287,"label":"Gly183"},{"r":223,"v":0.41,"label":"Met219-Tyr223"},{"r":271,"v":0.37,"label":"Glu285-Thr293"},{"r":307,"v":0.488,"label":"Asn300-Gly306"},{"r":319,"v":0.343,"label":"Lys311"},{"r":369,"v":0.348,"label":"Glu367"}]},"mark":{"type":"text","font":"Liberation Serif","fontSize":17.5,"color":"#222222"},"encoding":{"x":{"field":"r","type":"quantitative"},"y":{"field":"v","type":"quantitative"},"text":{"field":"label"}}},
{"data":{"values":[{"r":-3.4,"v":0.568,"label":"B"}]},"mark":{"type":"text","font":"Liberation Sans","fontWeight":"bold","fontSize":22,"color":"#111111"},"encoding":{"x":{"field":"r","type":"quantitative"},"y":{"field":"v","type":"quantitative"},"text":{"field":"label"}}}
]},
{"width":826,"height":367,"layer":[
{"data":{"name":"hb"},"mark":{"type":"rect","strokeWidth":0.4},"encoding":{"x":{"field":"a","type":"quantitative","scale":{"domain":[-0.617,50.37],"nice":false,"zero":false},"axis":{"values":[0,10,20,30,40,50],"title":"Time (ns)","titleX":414,"titleY":57,"labelPadding":6}},"x2":{"field":"b"},"y":{"field":"l","type":"quantitative","scale":{"domain":[-0.1,12.43],"nice":false,"zero":false},"axis":{"values":[0,2,4,6,8,10,12],"title":"Hydrogen bonds (nm)","titleX":-50,"titleY":197,"labelPadding":5,"offset":-6,"labelOffset":-3}},"y2":{"field":"h"},"color":{"field":"s","type":"nominal","legend":null,"scale":{"domain":["g","m","o"],"range":["#03c958","#ea3fcf","#ed8b47"]}},"stroke":{"field":"s","type":"nominal","legend":null,"scale":{"domain":["g","m","o"],"range":["#03c958","#ea3fcf","#ed8b47"]}}}},
{"data":{"values":[{"a":-6.8,"l":12.87,"label":"C"}]},"mark":{"type":"text","font":"Liberation Sans","fontWeight":"bold","fontSize":22,"color":"#111111"},"encoding":{"x":{"field":"a","type":"quantitative"},"y":{"field":"l","type":"quantitative"},"text":{"field":"label"}}},
{"data":{"values":[{"a":-5.62,"l":-5.87,"label":"RETRACTED"}]},"mark":{"type":"text","font":"Liberation Sans","fontSize":238,"angle":315,"align":"left","baseline":"alphabetic","color":"#ff0000"},"encoding":{"x":{"field":"a","type":"quantitative"},"y":{"field":"l","type":"quantitative"},"text":{"field":"label"}}}
]}
]}
